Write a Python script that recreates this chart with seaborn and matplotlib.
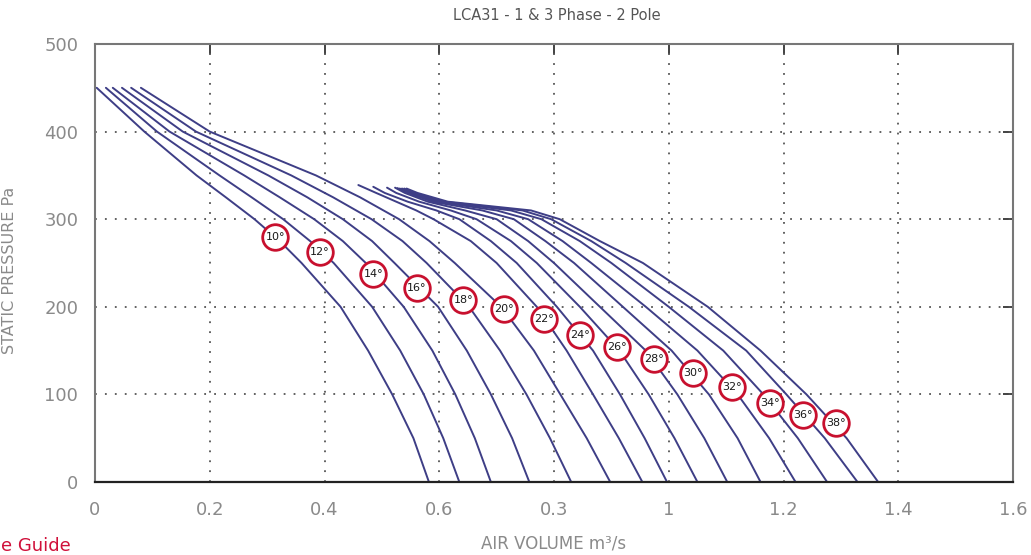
import matplotlib
matplotlib.use("Agg")
import matplotlib.pyplot as plt
import pandas as pd
import seaborn as sns

# blade angles, one curve each
ANGLES = [10, 12, 14, 16, 18, 20, 22, 24, 26, 28, 30, 32, 34, 36, 38]

# low-angle curves (10..20 deg) read at fixed pressure levels
LEFT_PRESSURE = [450, 400, 350, 325, 300, 275, 250, 200, 150, 100, 50, 0]
FLOW_10 = [0.003, 0.086, 0.177, 0.228, 0.278, 0.322, 0.360, 0.428, 0.476, 0.518, 0.555, 0.582]
FLOW_12 = [0.019, 0.108, 0.217, 0.273, 0.328, 0.375, 0.416, 0.483, 0.532, 0.573, 0.607, 0.635]
FLOW_14 = [0.031, 0.130, 0.260, 0.322, 0.382, 0.432, 0.472, 0.538, 0.588, 0.628, 0.662, 0.690]
FLOW_16 = [0.047, 0.153, 0.302, 0.370, 0.432, 0.483, 0.522, 0.598, 0.648, 0.690, 0.727, 0.757]
FLOW_18 = [0.063, 0.176, 0.342, 0.415, 0.482, 0.536, 0.578, 0.652, 0.706, 0.752, 0.793, 0.830]
FLOW_20 = [0.080, 0.200, 0.385, 0.462, 0.530, 0.583, 0.627, 0.708, 0.765, 0.811, 0.857, 0.898]

# high-angle curves (22..38 deg): first point is where the curve starts
RIGHT_PRESSURE = [330, 320, 310, 300, 275, 250, 200, 150, 100, 50, 0]
RIGHT_START = [339, 337, 336, 336, 335.5, 335, 335, 335, 335]
FLOW_22 = [0.459, 0.490, 0.525, 0.560, 0.590, 0.655, 0.700, 0.770, 0.822, 0.868, 0.913, 0.954]
FLOW_24 = [0.485, 0.505, 0.545, 0.595, 0.635, 0.690, 0.735, 0.805, 0.868, 0.915, 0.958, 0.997]
FLOW_26 = [0.509, 0.525, 0.565, 0.620, 0.665, 0.725, 0.770, 0.845, 0.914, 0.965, 1.010, 1.050]
FLOW_28 = [0.523, 0.540, 0.580, 0.645, 0.700, 0.755, 0.800, 0.880, 0.960, 1.015, 1.062, 1.102]
FLOW_30 = [0.527, 0.545, 0.588, 0.675, 0.730, 0.785, 0.835, 0.920, 1.005, 1.070, 1.120, 1.160]
FLOW_32 = [0.531, 0.550, 0.595, 0.700, 0.755, 0.815, 0.865, 0.960, 1.050, 1.120, 1.175, 1.221]
FLOW_34 = [0.535, 0.553, 0.602, 0.725, 0.778, 0.845, 0.900, 1.000, 1.095, 1.165, 1.225, 1.276]
FLOW_36 = [0.539, 0.556, 0.608, 0.745, 0.795, 0.865, 0.925, 1.035, 1.135, 1.205, 1.272, 1.329]
FLOW_38 = [0.543, 0.562, 0.615, 0.760, 0.810, 0.880, 0.955, 1.068, 1.160, 1.240, 1.310, 1.365]

# angle badges sitting on the curves
LABEL_FLOW = [0.314, 0.392, 0.485, 0.561, 0.642, 0.713, 0.782, 0.846, 0.910,
              0.975, 1.043, 1.110, 1.177, 1.234, 1.291]
LABEL_PRESSURE = [280, 263, 238, 222, 208, 197, 186, 168, 154, 140, 124, 108, 90, 77, 67]

XTICKS = [0, 0.2, 0.4, 0.6, 0.8, 1.0, 1.2, 1.4, 1.6]
XTICK_LABELS = ['0', '0.2', '0.4', '0.6', '0.3', '1', '1.2', '1.4', '1.6']
YTICKS = [0, 100, 200, 300, 400, 500]

LINE_COLOR = '#3e3e86'
BADGE_RED = '#c8102e'
TEXT_GREY = '#8a8a8a'

left = [FLOW_10, FLOW_12, FLOW_14, FLOW_16, FLOW_18, FLOW_20]
right = [FLOW_22, FLOW_24, FLOW_26, FLOW_28, FLOW_30, FLOW_32, FLOW_34, FLOW_36, FLOW_38]

rows = []
for ang, flows in zip(ANGLES[:6], left):
    for q, p in zip(flows, LEFT_PRESSURE):
        rows.append((ang, q, p))
for ang, flows, p0 in zip(ANGLES[6:], right, RIGHT_START):
    for q, p in zip(flows, [p0] + RIGHT_PRESSURE):
        rows.append((ang, q, p))
df = pd.DataFrame(rows, columns=['angle', 'flow', 'pressure'])

sns.set_style('white')
plt.rcParams['font.family'] = ['DejaVu Sans']

fig = plt.figure(figsize=(10.31, 5.55), dpi=100)
ax = fig.add_axes([95 / 1031, 1 - 482 / 555, 918 / 1031, 438 / 555])

sns.lineplot(data=df, x='flow', y='pressure', units='angle', estimator=None,
             sort=False, color=LINE_COLOR, linewidth=1.4, ax=ax, legend=False)

sns.scatterplot(x=LABEL_FLOW, y=LABEL_PRESSURE, s=340, color='white',
                edgecolor=BADGE_RED, linewidth=2.0, zorder=4, ax=ax, legend=False)
for q, p, ang in zip(LABEL_FLOW, LABEL_PRESSURE, ANGLES):
    ax.text(q, p, f'{ang}°', ha='center', va='center', fontsize=8,
            color='#1a1a1a', zorder=5)

ax.set_xlim(0, 1.6)
ax.set_ylim(0, 500)
ax.set_xticks(XTICKS)
ax.set_xticklabels(XTICK_LABELS)
ax.set_yticks(YTICKS)
ax.grid(True, linestyle=(0, (1, 4.5)), color='#555555', linewidth=1.3)
ax.tick_params(direction='inout', length=14, width=1.3, color='#333333',
               labelcolor=TEXT_GREY, labelsize=13)
ax.tick_params(axis='x', pad=7)
ax.tick_params(axis='y', pad=5)

for side in ['top', 'left', 'right']:
    ax.spines[side].set_color('#777777')
    ax.spines[side].set_linewidth(1.5)
ax.spines['bottom'].set_color('#222222')
ax.spines['bottom'].set_linewidth(1.6)

# inward ticks on top and right
secx = ax.secondary_xaxis('top')
secx.set_xticks(XTICKS)
secx.tick_params(direction='in', length=7, width=1.3, color='#333333', labeltop=False)
secx.spines['top'].set_visible(False)
secy = ax.secondary_yaxis('right')
secy.set_yticks(YTICKS)
secy.tick_params(direction='in', length=7, width=1.3, color='#333333', labelright=False)
secy.spines['right'].set_visible(False)

ax.set_xlabel('AIR VOLUME m³/s', color=TEXT_GREY, fontsize=12)
ax.set_ylabel('STATIC PRESSURE Pa', color=TEXT_GREY, fontsize=11.5)
ax.xaxis.set_label_coords(0.499, -0.12)
ax.yaxis.set_label_coords(-0.085, 0.484)

fig.text(557 / 1031, 1 - 16 / 555, 'LCA31 - 1 & 3 Phase - 2 Pole', ha='center',
         va='center', fontsize=10.5, color='#555555')
fig.text(0.001, 1 - 551 / 555, 'e Guide', ha='left', va='baseline', fontsize=13,
         color='#d0103a')

fig.savefig('out.png', dpi=100)
